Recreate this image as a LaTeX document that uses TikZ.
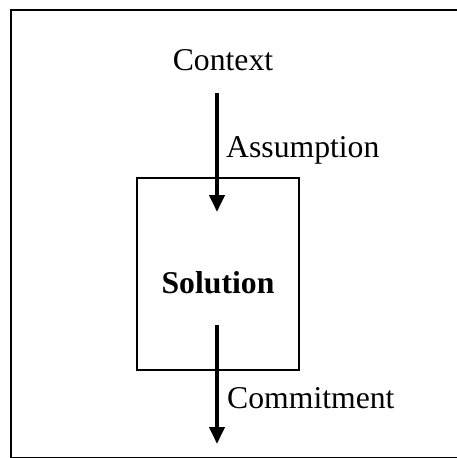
\documentclass[tikz,border=0pt]{standalone}
\usepackage{fontspec}
\setmainfont{Liberation Serif}
\usetikzlibrary{arrows.meta}
\begin{document}
\begin{tikzpicture}[x=1pt,y=-1pt,
  lbl/.style={inner sep=0pt,font=\fontsize{31.7}{38}\selectfont},
  flow/.style={line width=4pt,-{Triangle[width=15pt,length=17pt]}},
  frame/.style={draw=black,line width=2pt},
  solbox/.style={draw=black,line width=1.5pt}]
  \useasboundingbox (0,0) rectangle (457,458);
  \begin{scope}
    \clip (0,0) rectangle (457,458);
    \draw[frame] (10.5,9.5) rectangle (470,457.5);
  \end{scope}
  % solution box
  \draw[solbox] (137,178) rectangle (299,370);
  \node[lbl,anchor=base,font=\fontsize{31.7}{38}\selectfont\bfseries] (sol) at (218,293) {Solution};
  % texts
  \node[lbl,anchor=base] (ctx) at (223,70) {Context};
  \node[lbl,anchor=base west] (asm) at (226,157) {Assumption};
  \node[lbl,anchor=base west] (com) at (227,408) {Commitment};
  % arrows
  \coordinate (in1) at (217,93);
  \coordinate (in2) at (217,212);
  \coordinate (out1) at (217,325);
  \coordinate (out2) at (217,444);
  \draw[flow] (in1) -- (in2);
  \draw[flow] (out1) -- (out2);
\end{tikzpicture}
\end{document}
